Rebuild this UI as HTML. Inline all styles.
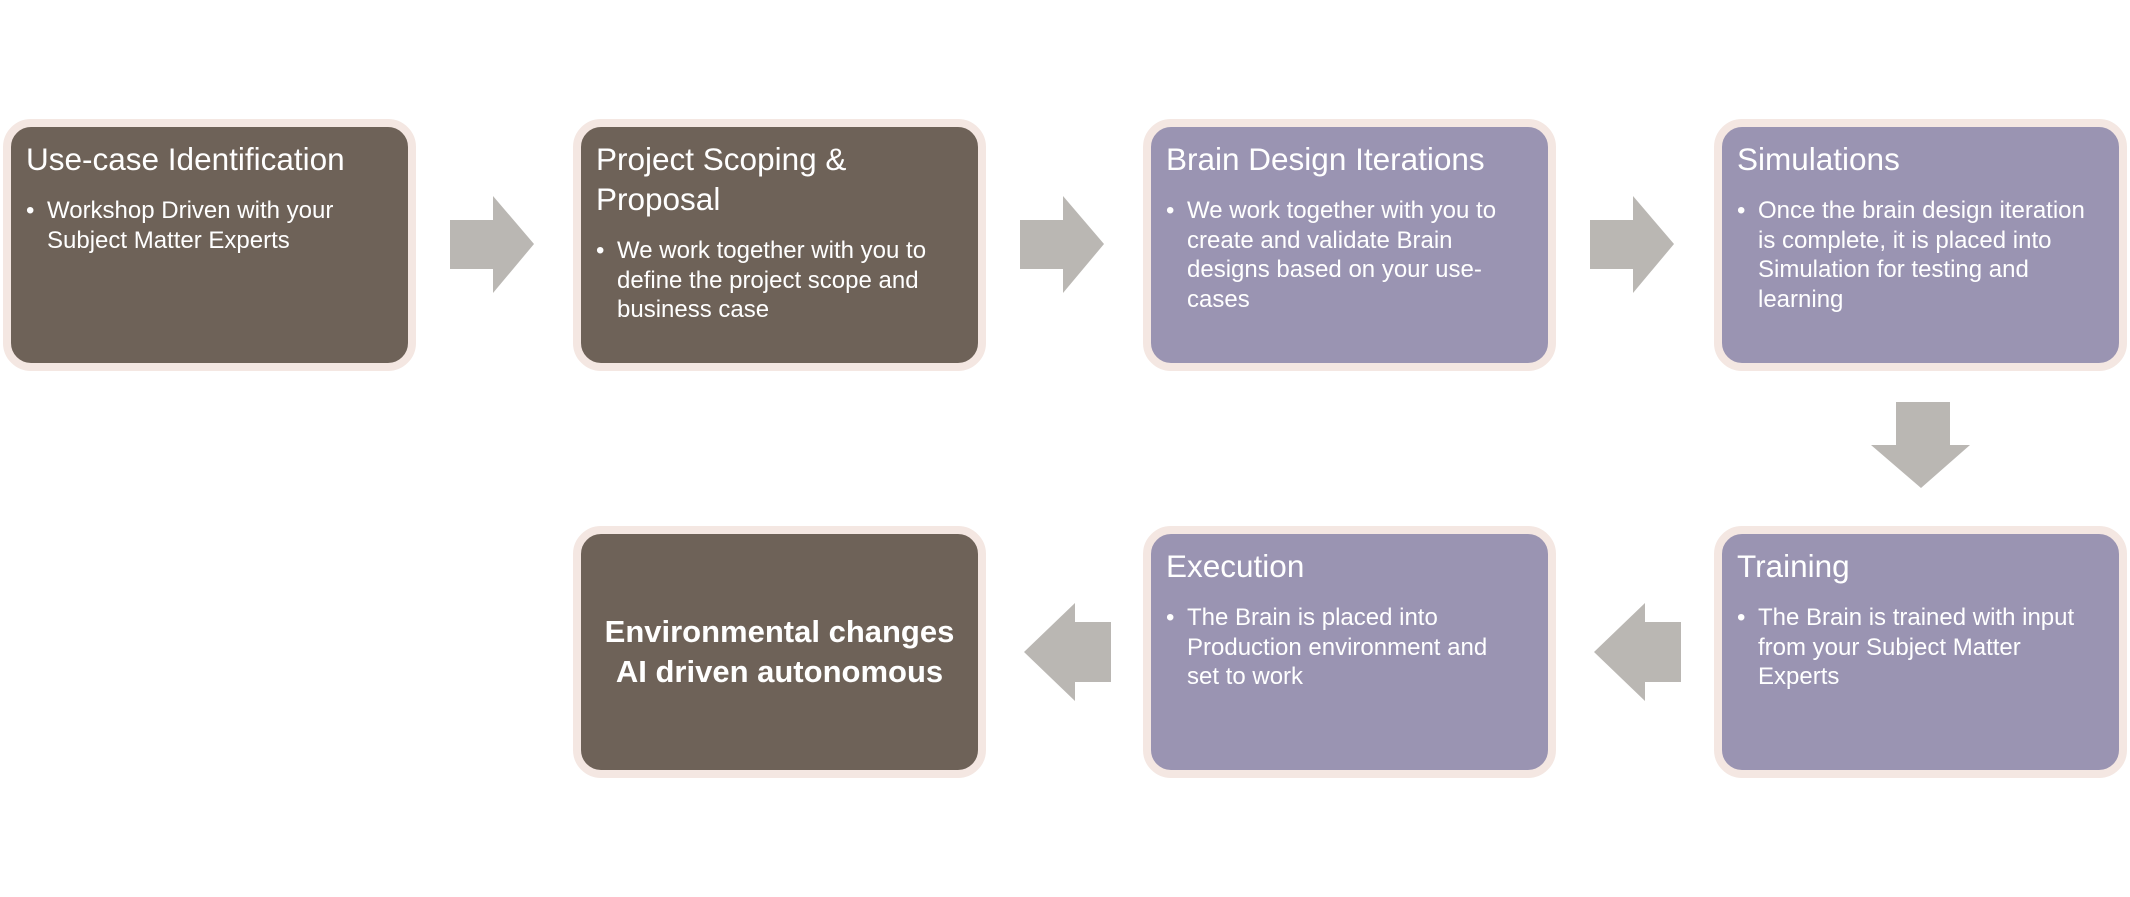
<!DOCTYPE html>
<html><head><meta charset="utf-8"><style>
html,body{margin:0;padding:0;background:#fff;}
body{width:2130px;height:897px;position:relative;overflow:hidden;font-family:"Liberation Sans",sans-serif;color:#fff;}
.b{position:absolute;width:397px;height:236px;border:8px solid #f4e7e2;border-radius:28px;box-sizing:content-box;}
.br{background:#6e6258;}
.pu{background:#9a94b2;}
.t{position:absolute;left:15px;top:12px;font-size:31.5px;line-height:40px;white-space:nowrap;}
.l{position:absolute;left:36px;font-size:24px;line-height:29.5px;white-space:nowrap;}
.l .d{position:absolute;left:-21px;}
.c{position:absolute;left:0;right:0;text-align:center;font-weight:bold;font-size:31px;line-height:40px;}
svg{position:absolute;left:0;top:0;}
</style></head><body>
<svg width="2130" height="897">
<g fill="#bab7b3">
<polygon points="450,220 493,220 493,196 534,244 493,293 493,269 450,269"/>
<polygon points="1020,220 1063,220 1063,196 1104,244 1063,293 1063,269 1020,269"/>
<polygon points="1590,220 1633,220 1633,196 1674,244 1633,293 1633,269 1590,269"/>
<polygon points="1896,402 1950,402 1950,445 1970,445 1921,488 1871,445 1896,445"/>
<polygon points="1681,622 1645,622 1645,603 1594,652 1645,701 1645,682 1681,682"/>
<polygon points="1111,622 1075,622 1075,603 1024,652 1075,701 1075,682 1111,682"/>
</g>
</svg>

<div class="b br" style="left:3px;top:119px;">
 <div class="t">Use-case Identification</div>
 <div class="l" style="top:69px;"><span class="d">•</span>Workshop Driven with your<br>Subject Matter Experts</div>
</div>

<div class="b br" style="left:573px;top:119px;">
 <div class="t">Project Scoping &amp;<br>Proposal</div>
 <div class="l" style="top:109px;"><span class="d">•</span>We work together with you to<br>define the project scope and<br>business case</div>
</div>

<div class="b pu" style="left:1143px;top:119px;">
 <div class="t">Brain Design Iterations</div>
 <div class="l" style="top:69px;"><span class="d">•</span>We work together with you to<br>create and validate Brain<br>designs based on your use-<br>cases</div>
</div>

<div class="b pu" style="left:1714px;top:119px;">
 <div class="t">Simulations</div>
 <div class="l" style="top:69px;"><span class="d">•</span>Once the brain design iteration<br>is complete, it is placed into<br>Simulation for testing and<br>learning</div>
</div>

<div class="b br" style="left:573px;top:526px;">
 <div class="c" style="top:78px;">Environmental changes<br>AI driven autonomous</div>
</div>

<div class="b pu" style="left:1143px;top:526px;">
 <div class="t">Execution</div>
 <div class="l" style="top:69px;"><span class="d">•</span>The Brain is placed into<br>Production environment and<br>set to work</div>
</div>

<div class="b pu" style="left:1714px;top:526px;">
 <div class="t">Training</div>
 <div class="l" style="top:69px;"><span class="d">•</span>The Brain is trained with input<br>from your Subject Matter<br>Experts</div>
</div>
</body></html>
